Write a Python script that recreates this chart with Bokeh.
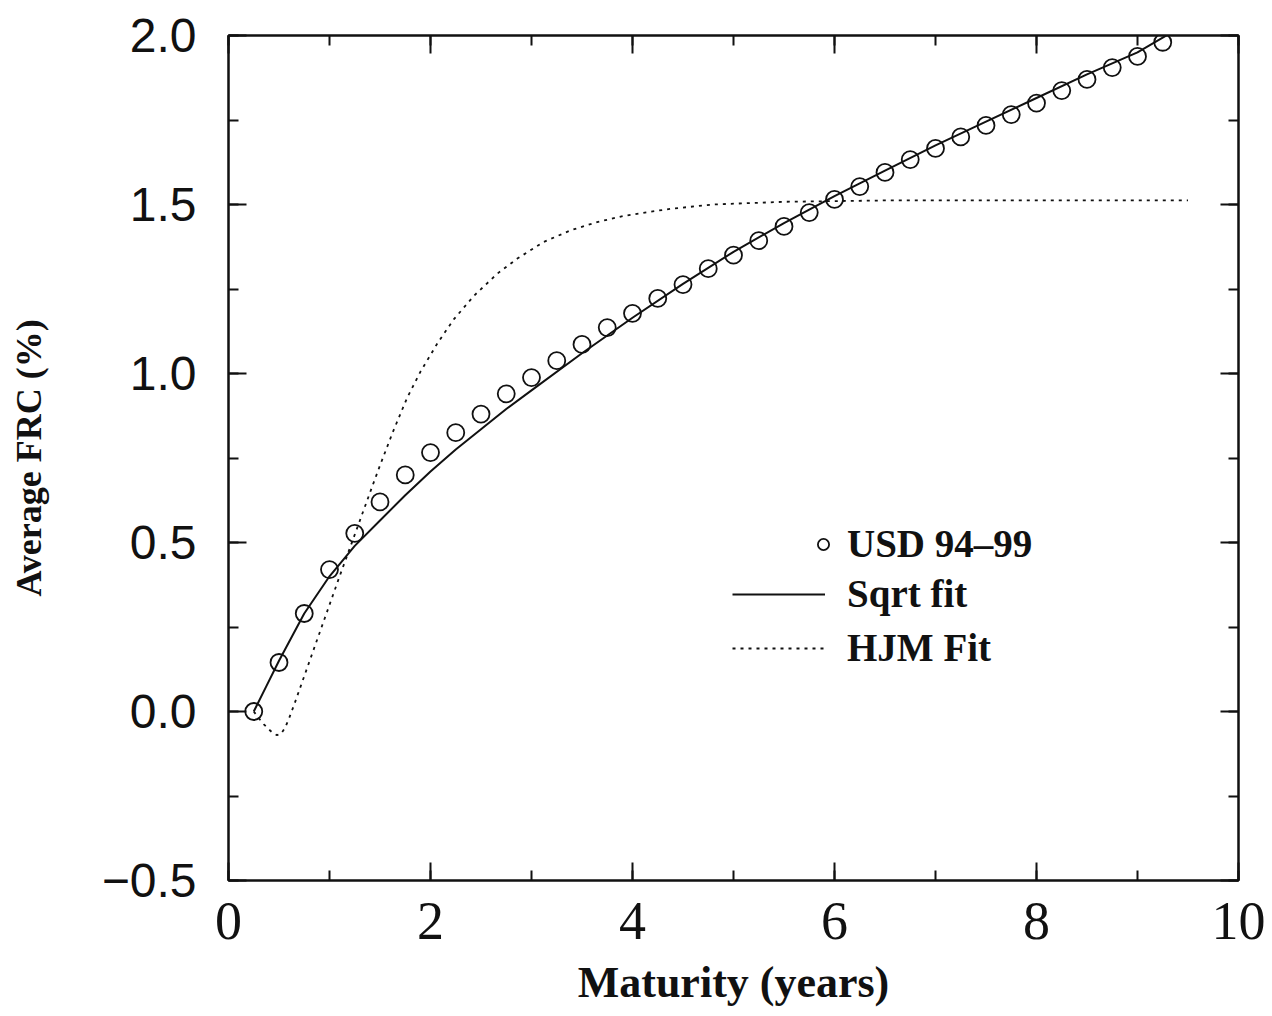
from bokeh.plotting import figure
from bokeh.models import (Range1d, LinearAxis, SingleIntervalTicker, Legend, LegendItem,
                          CustomJSTickFormatter)
from bokeh.embed import file_html
from bokeh.resources import INLINE

# Average forward-rate-curve deviation, USD 1994-1999
maturity = [0.25, 0.5, 0.75, 1.0, 1.25, 1.5, 1.75, 2.0, 2.25, 2.5, 2.75, 3.0, 3.25,
            3.5, 3.75, 4.0, 4.25, 4.5, 4.75, 5.0, 5.25, 5.5, 5.75, 6.0, 6.25, 6.5,
            6.75, 7.0, 7.25, 7.5, 7.75, 8.0, 8.25, 8.5, 8.75, 9.0, 9.25]
usd_frc = [0.0, 0.145, 0.29, 0.42, 0.527, 0.62, 0.70, 0.766, 0.825, 0.88, 0.94,
           0.988, 1.038, 1.086, 1.136, 1.178, 1.222, 1.263, 1.31, 1.35, 1.393,
           1.435, 1.476, 1.515, 1.553, 1.595, 1.633, 1.666, 1.70, 1.734, 1.766,
           1.80, 1.837, 1.87, 1.905, 1.938, 1.98]

# Square-root fit
sqrt_x = [0.25, 0.375, 0.5, 0.75, 1.0, 1.25, 1.5, 1.75, 2.0, 2.25, 2.5, 2.75, 3.0,
          3.5, 4.0, 4.5, 5.0, 5.5, 6.0, 6.5, 7.0, 7.5, 8.0, 8.5, 9.0, 9.4]
sqrt_y = [0.0, 0.075, 0.15, 0.29, 0.40, 0.49, 0.565, 0.64, 0.71, 0.775, 0.835,
          0.895, 0.95, 1.06, 1.165, 1.265, 1.36, 1.445, 1.525, 1.60, 1.675, 1.745,
          1.815, 1.885, 1.95, 2.02]

# HJM fit
hjm_x = [0.25, 0.3, 0.35, 0.4, 0.44, 0.48, 0.52, 0.56, 0.6, 0.65, 0.78, 0.94, 1.1,
         1.24, 1.41, 1.5, 1.63, 1.77, 1.9, 2.07, 2.23, 2.43, 2.66, 2.86, 3.12, 3.39,
         3.65, 3.91, 4.16, 4.4, 4.8, 5.5, 6.5, 9.5]
hjm_y = [0.0, -0.02, -0.038, -0.053, -0.064, -0.07, -0.066, -0.048, -0.02, 0.02,
         0.13, 0.265, 0.40, 0.515, 0.655, 0.728, 0.829, 0.929, 1.005, 1.09, 1.16,
         1.23, 1.295, 1.34, 1.389, 1.424, 1.448, 1.466, 1.478, 1.488, 1.50, 1.508,
         1.512, 1.512]

INK = "#111111"
SERIF = "Liberation Serif"
SANS = "Liberation Sans"

p = figure(width=1272, height=1016,
           x_range=Range1d(0, 10), y_range=Range1d(-0.5, 2.0),
           output_backend="svg", toolbar_location=None,
           min_border_left=228, min_border_right=34,
           min_border_top=35, min_border_bottom=136)
p.grid.visible = False
p.outline_line_color = INK
p.outline_line_width = 2
p.background_fill_color = "white"
p.border_fill_color = "white"


def style_axis(ax, horizontal):
    ax.ticker = (SingleIntervalTicker(interval=2, num_minor_ticks=2) if horizontal
                 else SingleIntervalTicker(interval=0.5, num_minor_ticks=2))
    ax.axis_line_color = INK
    ax.axis_line_width = 2
    ax.major_tick_line_color = INK
    ax.major_tick_line_width = 2
    ax.minor_tick_line_color = INK
    ax.minor_tick_line_width = 2
    ax.major_tick_in = 18
    ax.major_tick_out = 0
    ax.minor_tick_in = 10
    ax.minor_tick_out = 0


xa = p.xaxis[0]
style_axis(xa, True)
xa.major_label_text_font = SERIF
xa.major_label_text_font_size = "54px"
xa.major_label_text_color = INK
xa.major_label_standoff = 22
xa.axis_label = "Maturity (years)"
xa.axis_label_text_font = SERIF
xa.axis_label_text_font_style = "bold"
xa.axis_label_text_font_size = "44px"
xa.axis_label_text_color = INK
xa.axis_label_standoff = 16

ya = p.yaxis[0]
style_axis(ya, False)
ya.formatter = CustomJSTickFormatter(code="return tick.toFixed(1).replace('-', '\\u2212');")
ya.major_label_text_font = SANS
ya.major_label_text_font_size = "48px"
ya.major_label_text_color = INK
ya.major_label_standoff = 32
ya.axis_label = "Average FRC (%)"
ya.axis_label_text_font = SERIF
ya.axis_label_text_font_style = "bold"
ya.axis_label_text_font_size = "36px"
ya.axis_label_text_color = INK
ya.axis_label_standoff = 50

blank = "return '';"
top = LinearAxis(formatter=CustomJSTickFormatter(code=blank), major_label_standoff=0)
style_axis(top, True)
right = LinearAxis(formatter=CustomJSTickFormatter(code=blank), major_label_standoff=0)
style_axis(right, False)
p.add_layout(top, "above")
p.add_layout(right, "right")

sqrt_r = p.line(sqrt_x, sqrt_y, line_color=INK, line_width=2)
hjm_r = p.line(hjm_x, hjm_y, line_color=INK, line_width=1.8, line_dash="3 5")
pts_r = p.scatter(maturity, usd_frc, marker="circle", size=17, fill_color=None,
                  line_color=INK, line_width=1.8)

common = dict(border_line_color=None, background_fill_alpha=0, padding=0, margin=0,
              label_text_font=SERIF, label_text_font_style="bold",
              label_text_font_size="39px", label_text_color=INK,
              glyph_height=30, label_height=30)

leg_pts = Legend(items=[LegendItem(label="USD 94\u201399", renderers=[pts_r])],
                 location=(581, 314), glyph_width=28, label_standoff=10, **common)
leg_fit = Legend(items=[LegendItem(label="Sqrt fit", renderers=[sqrt_r]),
                        LegendItem(label="HJM Fit", renderers=[hjm_r])],
                 location=(504, 210), glyph_width=93, label_standoff=22, spacing=9,
                 **common)
p.add_layout(leg_pts, "center")
p.add_layout(leg_fit, "center")

open("out.html", "w").write(file_html(p, INLINE))
